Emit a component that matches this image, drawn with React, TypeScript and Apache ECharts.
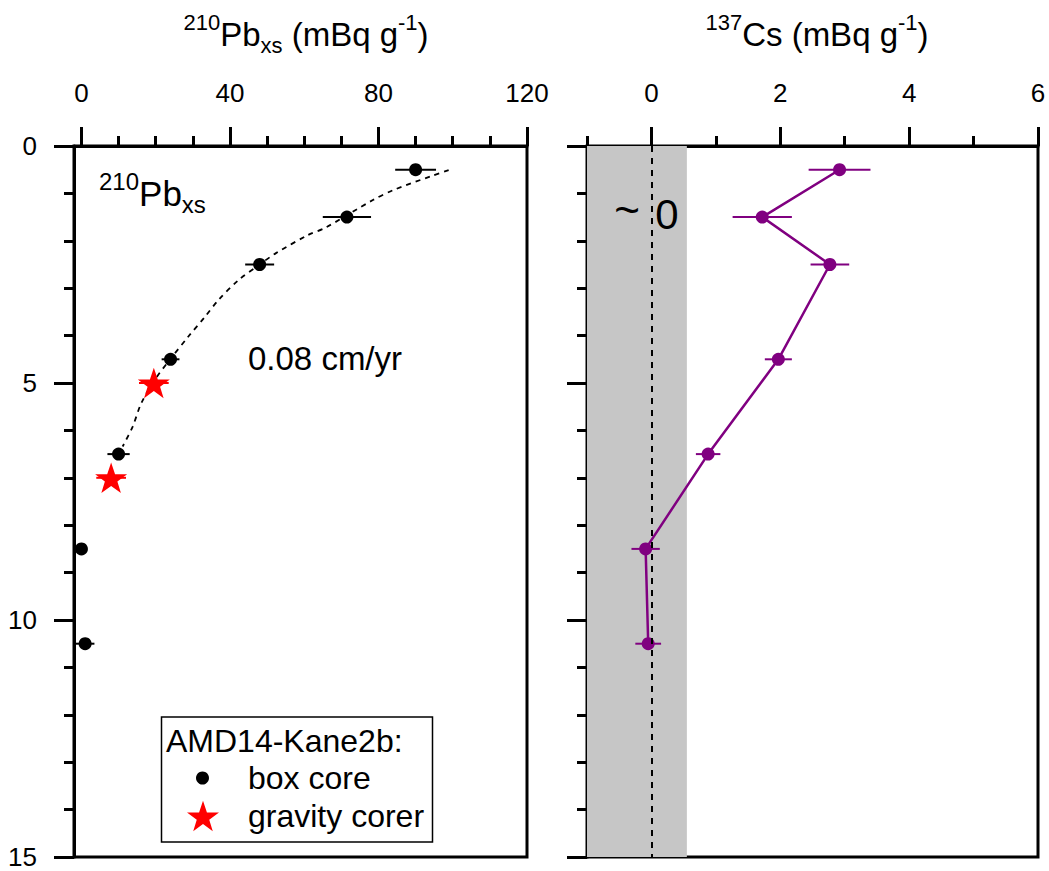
import React, { useEffect, useRef } from 'react';
import * as echarts from 'echarts';

// ---- 210Pb panel data (depth in cm, activity in mBq/g) ----
const depthBox = [0.5, 1.5, 2.5, 4.5, 6.5, 8.5, 10.5];
const pbBox = [90, 71.5, 48, 24, 10, 0, 1];
const pbBoxErr = [5.5, 6.5, 3.9, 2.4, 3, 0, 2.5];
const depthGravity = [5, 7];
const pbGravity = [19.5, 8];
const pbGravityErr = [4, 4];
const fitPb = [98.9, 94.4, 84, 78.5, 65.8, 61, 52.4, 47.8, 42.3, 36.9, 33.3, 28.8, 23.8, 19.7, 16.1, 13.8, 11.1];
const fitDepth = [0.51, 0.63, 0.93, 1.14, 1.72, 1.88, 2.26, 2.51, 2.83, 3.25, 3.6, 4.02, 4.51, 4.94, 5.43, 5.92, 6.34];

// ---- 137Cs panel data ----
const depthCs = [0.5, 1.5, 2.5, 4.5, 6.5, 8.5, 10.5];
const csValues = [2.92, 1.72, 2.77, 1.97, 0.88, -0.09, -0.05];
const csErr = [0.48, 0.46, 0.3, 0.21, 0.19, 0.22, 0.2];
const csBand = [-1, 0.55];

// ---- axes ----
const pbMajorTicks = [0, 40, 80, 120];
const pbMinorTicks = [10, 20, 30, 50, 60, 70, 90, 100, 110];
const csMajorTicks = [0, 2, 4, 6];
const csMinorTicks = [-1, 1, 3, 5];

const FONT = "'Liberation Sans', Arial, Helvetica, sans-serif";
const STAR = 'path://M50,0 L61.8,35.1 L98.1,35.1 L68.8,56.7 L79.4,91.3 L50,70 L20.6,91.3 L31.2,56.7 L1.9,35.1 L38.2,35.1 Z';
const PURPLE = '#800080';

const GRID_TOP = 146;
const GRID_H = 711;

function errRender(color: string) {
  return (params: any, api: any) => {
    const x = api.value(0);
    const y = api.value(1);
    const e = api.value(2);
    const a = api.coord([x - e, y]);
    const b = api.coord([x + e, y]);
    return {
      type: 'line',
      shape: { x1: a[0], y1: a[1], x2: b[0], y2: b[1] },
      style: { stroke: color, lineWidth: 2 },
    };
  };
}

function topAxes(gridIndex: number, min: number, max: number, major: number[], minor: number[]) {
  return [
    {
      gridIndex,
      type: 'value',
      position: 'top',
      min,
      max,
      axisLine: { onZero: false, lineStyle: { color: '#000', width: 3 } },
      axisTick: { customValues: major, length: 19, lineStyle: { color: '#000', width: 3 } },
      axisLabel: { customValues: major, margin: 40, fontSize: 26, color: '#000', fontFamily: FONT },
      splitLine: { show: false },
    },
    {
      gridIndex,
      type: 'value',
      position: 'bottom',
      offset: -GRID_H,
      min,
      max,
      axisLine: { show: false, onZero: false },
      axisTick: { inside: true, customValues: minor, length: 10, lineStyle: { color: '#000', width: 3 } },
      axisLabel: { show: false },
      splitLine: { show: false },
    },
  ];
}

function depthAxis(gridIndex: number, showLabels: boolean) {
  return {
    gridIndex,
    type: 'value',
    position: 'left',
    inverse: true,
    min: 0,
    max: 15,
    interval: 5,
    axisLine: { onZero: false, lineStyle: { color: '#000', width: 3 } },
    axisTick: { length: 20, lineStyle: { color: '#000', width: 3 } },
    minorTick: { show: true, splitNumber: 5, length: 10, lineStyle: { color: '#000', width: 3 } },
    axisLabel: { show: showLabels, margin: 37, fontSize: 26, color: '#000', fontFamily: FONT },
    splitLine: { show: false },
    minorSplitLine: { show: false },
  };
}

function richTitle(text: string, cx: number, cy: number, main: number, small: number, align: string) {
  return {
    type: 'text',
    x: cx,
    y: cy,
    z: 100,
    style: {
      text,
      align,
      textAlign: align,
      verticalAlign: 'middle',
      textVerticalAlign: 'middle',
      fill: '#000',
      fontFamily: FONT,
      fontSize: main,
      rich: {
        m: { fontSize: main, fontFamily: FONT, lineHeight: Math.round(main * 1.35), fill: '#000', color: '#000' },
        sup: { fontSize: small, fontFamily: FONT, lineHeight: small, verticalAlign: 'top', fill: '#000', color: '#000' },
        sub: { fontSize: small, fontFamily: FONT, lineHeight: Math.round(small * 0.8), verticalAlign: 'bottom', fill: '#000', color: '#000' },
      },
    },
  };
}

function plainText(text: string, x: number, y: number, size: number, align: string) {
  return {
    type: 'text',
    x,
    y,
    z: 100,
    style: { text, fontSize: size, fontFamily: FONT, fill: '#000', align, textAlign: align, verticalAlign: 'middle', textVerticalAlign: 'middle' },
  };
}

export default function App() {
  const ref = useRef<HTMLDivElement>(null);

  useEffect(() => {
    if (!ref.current) return;
    const chart = echarts.init(ref.current, undefined, { renderer: 'svg' });

    const option: any = {
      animation: false,
      backgroundColor: '#fff',
      grid: [
        { left: 74, top: GRID_TOP, width: 453, height: GRID_H, show: true, borderColor: '#000', borderWidth: 3, backgroundColor: 'transparent' },
        { left: 587, top: GRID_TOP, width: 451, height: GRID_H, show: true, borderColor: '#000', borderWidth: 3, backgroundColor: 'transparent' },
      ],
      xAxis: [
        ...topAxes(0, -2, 120, pbMajorTicks, pbMinorTicks),
        ...topAxes(1, -1, 6, csMajorTicks, csMinorTicks),
      ],
      yAxis: [depthAxis(0, true), depthAxis(1, false)],
      legend: [
        {
          data: ['box core'],
          left: 196,
          top: 762,
          padding: 0,
          itemWidth: 13,
          itemHeight: 13,
          selectedMode: false,
          textStyle: { fontSize: 32, color: '#000', fontFamily: FONT, padding: [0, 0, 0, 34] },
        },
        {
          data: ['gravity corer'],
          left: 187,
          top: 800,
          padding: 0,
          itemWidth: 32,
          itemHeight: 32,
          selectedMode: false,
          textStyle: { fontSize: 32, color: '#000', fontFamily: FONT, padding: [0, 0, 0, 24] },
        },
      ],
      series: [
        {
          type: 'line',
          name: 'fit',
          xAxisIndex: 0,
          yAxisIndex: 0,
          data: fitPb.map((v, i) => [v, fitDepth[i]]),
          symbol: 'none',
          smooth: 0.3,
          lineStyle: { color: '#000', width: 1.8, type: [5, 5] },
          z: 2,
        },
        {
          type: 'custom',
          name: 'pbErr',
          xAxisIndex: 0,
          yAxisIndex: 0,
          encode: { x: 0, y: 1 },
          data: pbBox.map((v, i) => [v, depthBox[i], pbBoxErr[i]]),
          renderItem: errRender('#000'),
          z: 3,
        },
        {
          type: 'custom',
          name: 'gravityErr',
          xAxisIndex: 0,
          yAxisIndex: 0,
          encode: { x: 0, y: 1 },
          data: pbGravity.map((v, i) => [v, depthGravity[i], pbGravityErr[i]]),
          renderItem: errRender('#ff0000'),
          z: 3,
        },
        {
          type: 'scatter',
          name: 'box core',
          xAxisIndex: 0,
          yAxisIndex: 0,
          data: pbBox.map((v, i) => [v, depthBox[i]]),
          symbol: 'circle',
          symbolSize: 13,
          itemStyle: { color: '#000', opacity: 1 },
          z: 4,
        },
        {
          type: 'scatter',
          name: 'gravity corer',
          xAxisIndex: 0,
          yAxisIndex: 0,
          data: pbGravity.map((v, i) => [v, depthGravity[i]]),
          symbol: STAR,
          symbolKeepAspect: true,
          symbolSize: 32,
          itemStyle: { color: '#ff0000', opacity: 1 },
          z: 4,
        },
        {
          type: 'custom',
          name: 'csErr',
          xAxisIndex: 2,
          yAxisIndex: 1,
          encode: { x: 0, y: 1 },
          data: csValues.map((v, i) => [v, depthCs[i], csErr[i]]),
          renderItem: errRender(PURPLE),
          z: 3,
        },
        {
          type: 'line',
          name: '137Cs',
          xAxisIndex: 2,
          yAxisIndex: 1,
          data: csValues.map((v, i) => [v, depthCs[i]]),
          symbol: 'circle',
          symbolSize: 13,
          showSymbol: true,
          itemStyle: { color: PURPLE, opacity: 1 },
          lineStyle: { color: PURPLE, width: 2.5 },
          z: 4,
          markArea: {
            silent: true,
            itemStyle: { color: '#c6c6c6' },
            data: [[{ xAxis: csBand[0] }, { xAxis: csBand[1] }]],
          },
          markLine: {
            silent: true,
            symbol: 'none',
            label: { show: false },
            lineStyle: { color: '#000', width: 2, type: [6, 6] },
            data: [{ xAxis: 0 }],
          },
        },
      ],
      graphic: [
        richTitle('{sup|210}{m|Pb}{sub|xs}{m| (mBq g}{sup|-1}{m|)}', 306, 34, 33, 22, 'center'),
        richTitle('{sup|137}{m|Cs (mBq g}{sup|-1}{m|)}', 817, 34, 33, 22, 'center'),
        richTitle('{sup|210}{m|Pb}{sub|xs}', 99, 193, 35, 24, 'left'),
        plainText('0.08 cm/yr', 325, 358, 33, 'center'),
        plainText('~', 627, 209, 44, 'center'),
        plainText('0', 667, 214, 42, 'center'),
        {
          type: 'rect',
          shape: { x: 161.5, y: 717, width: 271, height: 125 },
          style: { fill: '#fff', stroke: '#000', lineWidth: 1.5 },
          z: -1,
        },
        plainText('AMD14-Kane2b:', 166, 741, 32, 'left'),
      ],
    };

    chart.setOption(option);
    return () => chart.dispose();
  }, []);

  return (
    <div
      ref={ref}
      style={{ position: 'absolute', left: 0, top: 0, width: 1049, height: 871, background: '#fff' }}
    />
  );
}
